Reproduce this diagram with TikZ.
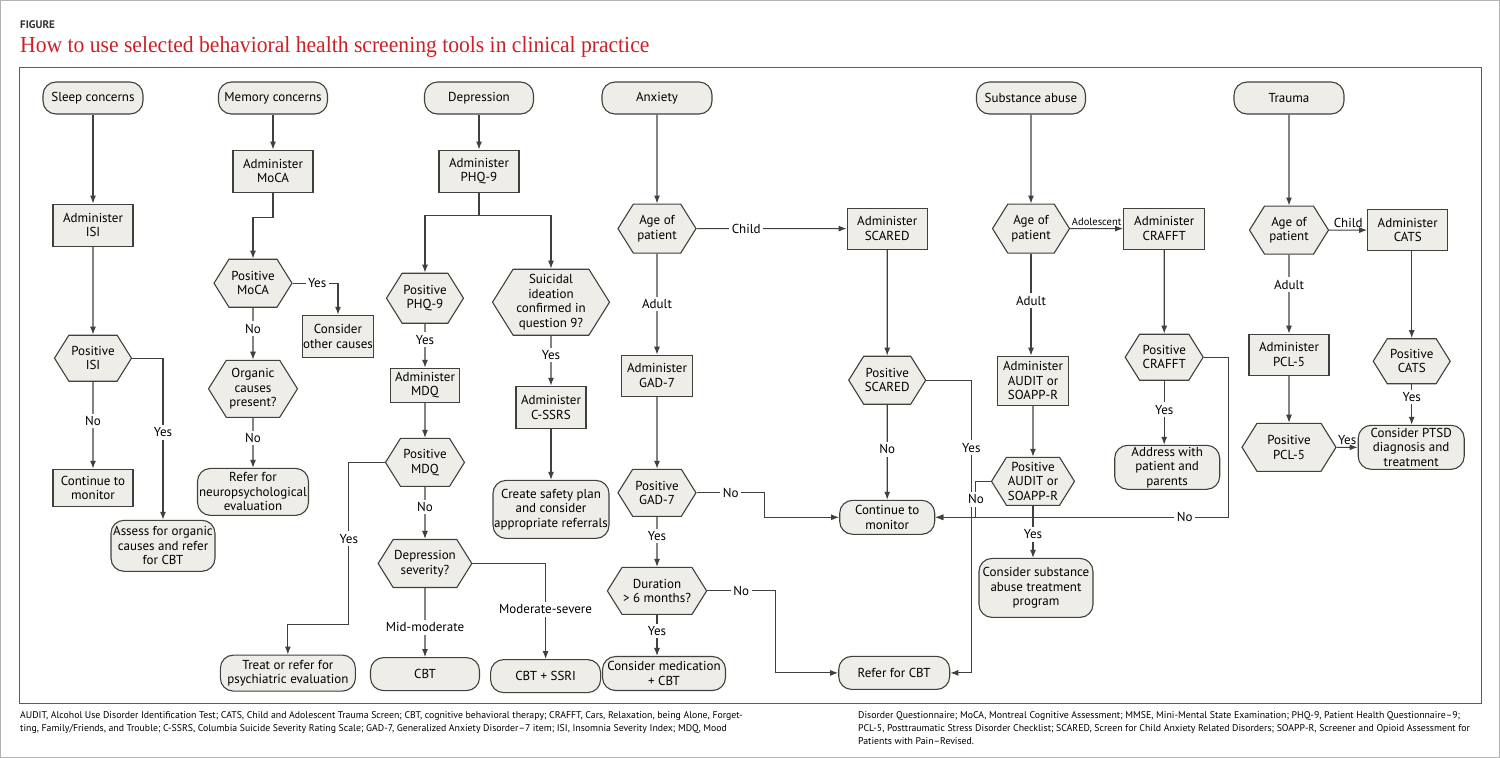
\documentclass[tikz,border=0pt]{standalone}
\usepackage{fontspec}
\setmainfont{PT Sans}
\newfontfamily\titlefont{Liberation Serif}
\usetikzlibrary{positioning, shapes.symbols, arrows.meta}

\definecolor{boxfill}{RGB}{238,237,231}
\definecolor{linec}{RGB}{64,64,64}
\definecolor{titlered}{RGB}{204,32,39}

\tikzset{
  wh/.style 2 args = {minimum width = #1pt, minimum height = #2pt},
  flowbox/.style = {draw = linec, fill = boxfill, line width = 1.1pt, align = center,
    inner sep = 1pt, font = \fontsize{13}{14.5}\selectfont},
  term/.style = {flowbox, rounded corners = 13pt},
  act/.style = {flowbox},
  test/.style = {flowbox, shape = signal, signal to = east and west,
    signal from = nowhere, signal pointer angle = 116},
  wire/.style = {draw = linec, line width = 1.1pt},
  arr/.style = {wire, -{Latex[length = 8pt, width = 6pt]}},
  lbl/.style = {fill = white, inner sep = 2.5pt, font = \fontsize{13}{14}\selectfont},
  toplbl/.style = {above, inner sep = 2pt, font = \fontsize{13}{14}\selectfont},
  notes/.style = {anchor = north west, align = left, inner sep = 0pt,
    font = \fontsize{9.8}{13}\selectfont},
}

\begin{document}
\begin{tikzpicture}[x = 1pt, y = -1pt]
    \useasboundingbox (0,0) rectangle (1500,758);
    \draw[gray!60, line width = 1pt] (0.5,0.5) rectangle (1499.5,757.5);
    \draw[linec!85, line width = 1pt] (19,67) rectangle (1481,703);

    \node[anchor = base west, inner sep = 0pt, text = black!80,
      font = \fontsize{11}{12}\selectfont\bfseries] (fig) at (20,28) {FIGURE};
    \node[anchor = base west, inner sep = 0pt, text = titlered,
      font = \titlefont\fontsize{23}{25}\selectfont] (title) at (20,52)
      {\scalebox{0.94}[1]{How to use selected behavioral health screening tools in clinical practice}};

    % sleep
    \node[term, wh = {100}{32}] (sleep) at (93,98) {Sleep concerns};
    \node[below = 89pt of sleep, act, wh = {80}{42}] (isi) {Administer\\ISI};
    \node[below = 88pt of isi, test, wh = {77}{46}] (posisi) {Positive\\ISI};
    \node[below = 87pt of posisi, act, wh = {80}{37}] (monisi) {Continue to\\monitor};
    \node[below = 138pt of posisi, xshift = 70pt, term, wh = {104}{51}] (assess)
      {Assess for organic\\causes and refer\\for CBT};

    % memory
    \node[term, wh = {109}{32}] (memory) at (273,98) {Memory concerns};
    \node[below = 35pt of memory, act, wh = {80}{42}] (moca) {Administer\\MoCA};
    \node[below = 66pt of moca, xshift = -20pt, test, wh = {78}{48}] (posmoca) {Positive\\MoCA};
    \node[below = 7pt of posmoca, xshift = 85pt, act, wh = {70}{42}] (other) {Consider\\other causes};
    \node[below = 52pt of posmoca, test, wh = {89}{57}] (organic) {Organic\\causes\\present?};
    \node[below = 50pt of organic, term, wh = {111}{47}] (neuro)
      {Refer for\\neuropsychological\\evaluation};

    % depression
    \node[term, wh = {109}{32}] (depr) at (479,98) {Depression};
    \node[below = 35pt of depr, act, wh = {80}{42}] (phq) {Administer\\PHQ-9};
    \node[below = 80pt of phq, xshift = -54pt, test, wh = {77}{50}] (posphq) {Positive\\PHQ-9};
    \node[below = 76pt of phq, xshift = 72pt, test, wh = {117}{66}] (suicid)
      {Suicidal\\ideation\\confirmed in\\question 9?};
    \node[below = 44pt of posphq, act, wh = {69}{34}] (mdq) {Administer\\MDQ};
    \node[below = 35pt of mdq, test, wh = {79}{48}] (posmdq) {Positive\\MDQ};
    \node[below = 52pt of posmdq, test, wh = {87}{48}] (sever) {Depression\\severity?};
    \node[below = 69pt of sever, term, wh = {109}{33}] (cbt) {CBT};
    \node[right = 10pt of cbt, yshift = -2pt, term, wh = {110}{33}] (cbtssri) {CBT + SSRI};
    \node[left = 14pt of cbt, yshift = 1pt, term, wh = {135}{36}] (treat)
      {Treat or refer for\\psychiatric evaluation};
    \node[below = 50pt of suicid, act, wh = {70}{42}] (cssrs) {Administer\\C-SSRS};
    \node[below = 51pt of cssrs, term, wh = {116}{58}] (safety)
      {Create safety plan\\and consider\\appropriate referrals};

    % anxiety
    \node[term, wh = {110}{32}] (anx) at (657,98) {Anxiety};
    \node[below = 89pt of anx, test, wh = {78}{49}] (ageanx) {Age of\\patient};
    \node[right = 150pt of ageanx, act, wh = {80}{41}] (scared) {Administer\\SCARED};
    \node[below = 101pt of ageanx, act, wh = {71}{41}] (gad) {Administer\\GAD-7};
    \node[below = 72pt of gad, test, wh = {78}{47}] (posgad) {Positive\\GAD-7};
    \node[below = 50pt of posgad, test, wh = {94}{47}] (duration) {Duration\\> 6 months?};
    \node[below = 41pt of duration, xshift = 7pt, term, wh = {123}{34}] (medic)
      {Consider medication\\+ CBT};
    \node[below = 106pt of scared, test, wh = {77}{48}] (posscared) {Positive\\SCARED};
    \node[below = 95pt of posscared, term, wh = {95}{34}] (monitor) {Continue to\\monitor};
    \node[below = 121pt of monitor, xshift = 7pt, term, wh = {111}{33}] (refer) {Refer for CBT};

    % substance
    \node[term, wh = {109}{32}] (subst) at (1031,98) {Substance abuse};
    \node[below = 89pt of subst, test, wh = {77}{49}] (agesub) {Age of\\patient};
    \node[right = 53pt of agesub, act, wh = {81}{41}] (crafft) {Administer\\CRAFFT};
    \node[below = 102pt of agesub, xshift = 2pt, act, wh = {71}{49}] (audit)
      {Administer\\AUDIT or\\SOAPP-R};
    \node[below = 51pt of audit, test, wh = {83}{48}] (posaudit) {Positive\\AUDIT or\\SOAPP-R};
    \node[below = 52pt of posaudit, xshift = 3pt, term, wh = {114}{59}] (subtreat)
      {Consider substance\\abuse treatment\\program};
    \node[below = 84pt of crafft, test, wh = {78}{46}] (poscrafft) {Positive\\CRAFFT};
    \node[below = 64pt of poscrafft, xshift = 3pt, term, wh = {105}{44}] (address)
      {Address with\\patient and\\parents};

    % trauma
    \node[term, wh = {110}{32}] (trauma) at (1289,98) {Trauma};
    \node[below = 91pt of trauma, test, wh = {79}{48}] (agetr) {Age of\\patient};
    \node[right = 38pt of agetr, act, wh = {80}{41}] (cats) {Administer\\CATS};
    \node[below = 79pt of agetr, act, wh = {80}{41}] (pcl) {Administer\\PCL-5};
    \node[below = 47pt of pcl, test, wh = {94}{48}] (pospcl) {Positive\\PCL-5};
    \node[right = 21pt of pospcl, term, wh = {106}{44}] (ptsd)
      {Consider PTSD\\diagnosis and\\treatment};
    \node[below = 87pt of cats, xshift = 4pt, test, wh = {77}{45}] (poscats) {Positive\\CATS};

    \draw[arr] (sleep) -- (isi);
    \draw[arr] (isi) -- (posisi);
    \draw[arr] (posisi) -- node[lbl, pos = 0.45] {No} (monisi);
    \draw[arr] (posisi.east) -| node[lbl, pos = 0.73] {Yes} (assess.north);

    \draw[arr] (memory) -- (moca);
    \draw[arr] (moca.south) -- ++(0,25) -| (posmoca.north);
    \draw[arr] (posmoca.east) -| node[lbl, pos = 0.27] {Yes} (other.north);
    \draw[arr] (posmoca) -- node[lbl, pos = 0.4] {No} (organic);
    \draw[arr] (organic) -- node[lbl, pos = 0.4] {No} (neuro);

    \draw[arr] (depr) -- (phq);
    \draw[arr] (phq.south) -- ++(0,23) -| (posphq.north);
    \draw[arr] (phq.south) ++(0,23) -| (suicid.north);
    \draw[arr] (posphq) -- node[lbl, pos = 0.36] {Yes} (mdq);
    \draw[arr] (mdq) -- (posmdq);
    \draw[arr] (posmdq.west) -- ++(-36,0) -- node[lbl, pos = 0.47] {Yes} ++(0,162) -| (treat.north);
    \draw[arr] (posmdq) -- node[lbl, pos = 0.38] {No} (sever);
    \draw[arr] (sever) -- node[lbl, pos = 0.57] {Mid-moderate} (cbt);
    \draw[arr] (sever.east) -| node[lbl, pos = 0.74] {Moderate-severe} (cbtssri.north);
    \draw[arr] (suicid) -- node[lbl, pos = 0.38] {Yes} (cssrs);
    \draw[arr] (cssrs) -- (safety);

    \draw[arr] (anx) -- (ageanx);
    \draw[arr] (ageanx) -- node[lbl, pos = 0.33] {Child} (scared);
    \draw[arr] (ageanx) -- node[lbl, pos = 0.5] {Adult} (gad);
    \draw[arr] (gad) -- (posgad);
    \draw[arr] (posgad.east) -- node[lbl] {No} ++(68,0) |- (monitor.west);
    \draw[arr] (posgad) -- node[lbl, pos = 0.38] {Yes} (duration);
    \draw[arr] (duration.south) -- node[lbl, pos = 0.39] {Yes} (duration.south |- medic.north);
    \draw[arr] (duration.east) -- node[lbl] {No} ++(68,0) |- (refer.west);
    \draw[arr] (scared) -- (posscared);
    \draw[arr] (posscared) -- node[lbl, pos = 0.47] {No} (monitor);
    \draw[arr] (posscared.east) -- ++(45,0) |- node[lbl, pos = 0.115] {Yes} (refer.east);

    \draw[arr] (subst) -- (agesub);
    \draw[arr] (agesub) -- node[above, inner sep = 2pt, font = \fontsize{10.5}{12}\selectfont] {Adolescent} (crafft);
    \draw[arr] (agesub.south) -- node[lbl, pos = 0.46] {Adult} (agesub.south |- audit.north);
    \draw[arr] (audit) -- (posaudit);
    \draw[arr] (posaudit.west) -- ++(-15,0) |- node[lbl, pos = 0.25] {No} (monitor.east);
    \draw[arr] (posaudit.south) -- node[lbl, pos = 0.55] {Yes} (posaudit.south |- subtreat.north);
    \draw[arr] (crafft) -- (poscrafft);
    \draw[arr] (poscrafft.east) -- ++(25,0) |- node[lbl, pos = 0.575] {No} (monitor.east);
    \draw[arr] (poscrafft.south) -- node[lbl, pos = 0.45] {Yes} (poscrafft.south |- address.north);

    \draw[arr] (trauma) -- (agetr);
    \draw[arr] (agetr) -- node[toplbl] {Child} (cats);
    \draw[arr] (agetr) -- node[lbl, pos = 0.38] {Adult} (pcl);
    \draw[arr] (pcl) -- (pospcl);
    \draw[arr] (pospcl) -- node[toplbl] {Yes} (ptsd);
    \draw[arr] (poscats.north |- cats.south) -- (poscats.north);
    \draw[arr] (poscats.south) -- node[lbl, pos = 0.31] {Yes} (poscats.south |- ptsd.north);

    \node[notes] (notesa) at (20,711)
      {AUDIT, Alcohol Use Disorder Identification Test; CATS, Child and Adolescent Trauma Screen; CBT, cognitive behavioral therapy; CRAFFT, Cars, Relaxation, being Alone, Forget-\\
       ting, Family/Friends, and Trouble; C-SSRS, Columbia Suicide Severity Rating Scale; GAD-7, Generalized Anxiety Disorder–7 item; ISI, Insomnia Severity Index; MDQ, Mood};
    \node[notes] (notesb) at (858,711)
      {Disorder Questionnaire; MoCA, Montreal Cognitive Assessment; MMSE, Mini-Mental State Examination; PHQ-9, Patient Health Questionnaire–9;\\
       PCL-5, Posttraumatic Stress Disorder Checklist; SCARED, Screen for Child Anxiety Related Disorders; SOAPP-R, Screener and Opioid Assessment for\\
       Patients with Pain–Revised.};
\end{tikzpicture}
\end{document}
